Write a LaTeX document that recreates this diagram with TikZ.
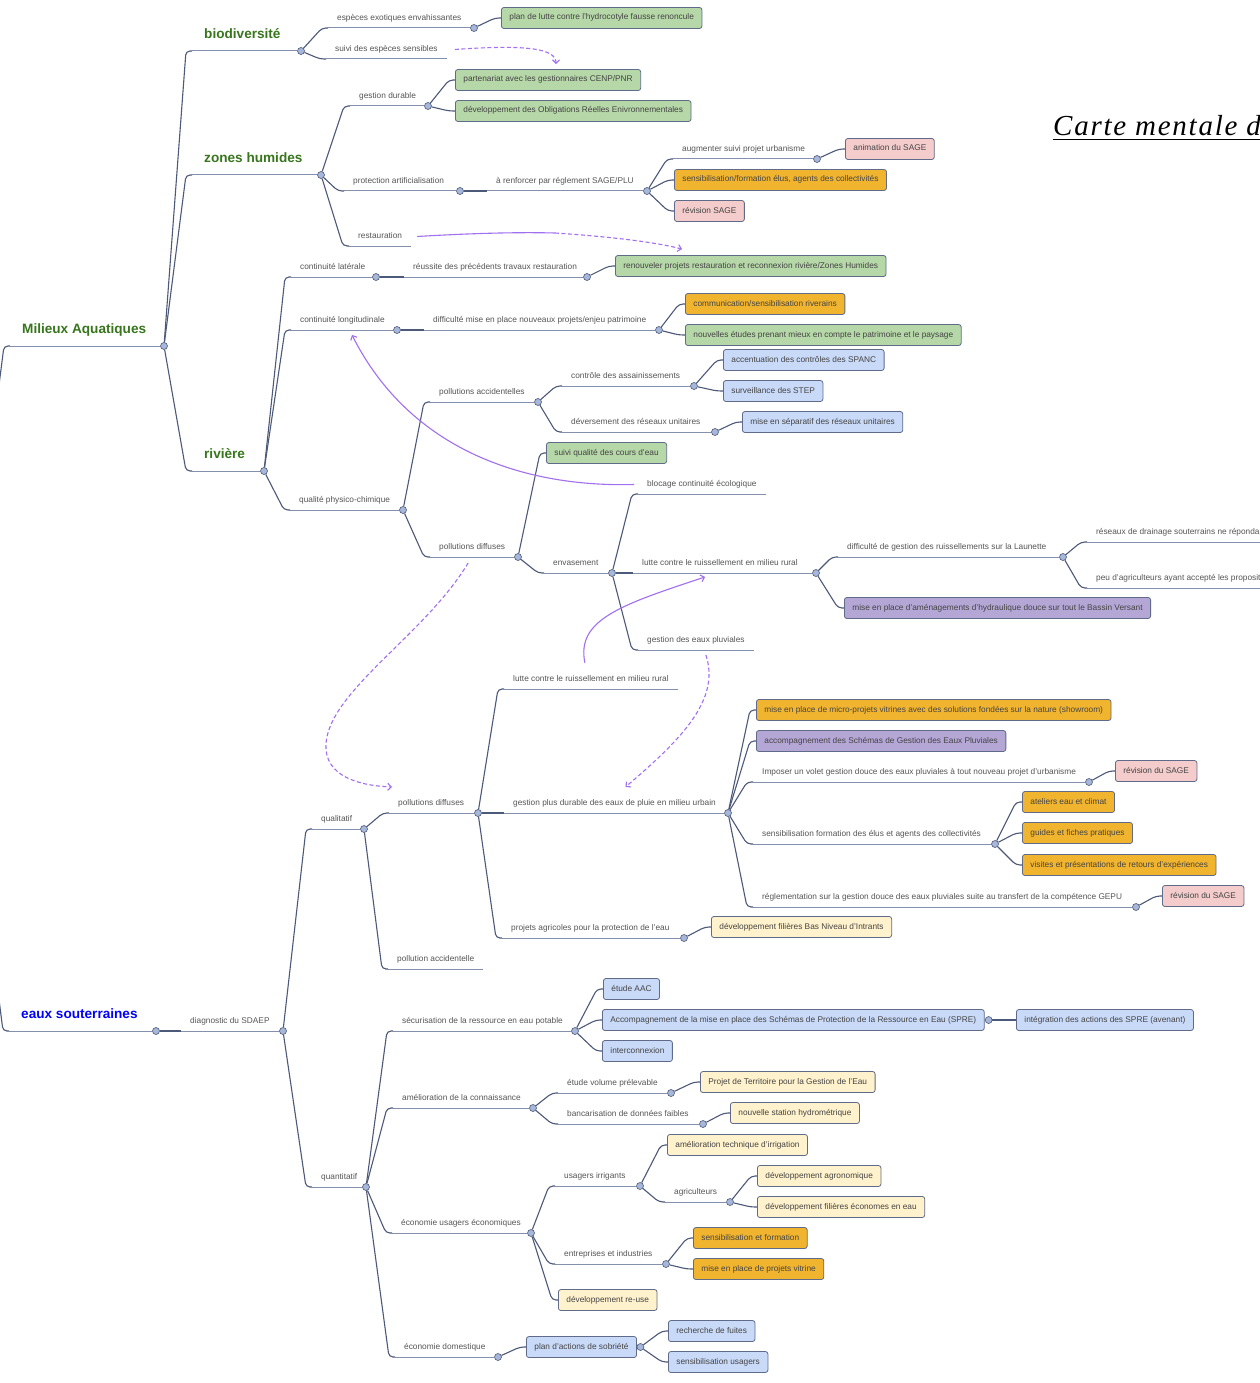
\documentclass[tikz,border=0pt]{standalone}
\usepackage{fontspec}
\setmainfont{Liberation Sans}
\newfontfamily\titlefont[LetterSpace=6]{Liberation Serif}
\usetikzlibrary{arrows.meta}

\definecolor{linec}{HTML}{4D5979}
\definecolor{ulinec}{HTML}{8590AE}
\definecolor{hubc}{HTML}{A6B7D9}
\definecolor{boxline}{HTML}{606B89}
\definecolor{txtc}{HTML}{555555}
\definecolor{boxtxt}{HTML}{444444}
\definecolor{headgreen}{HTML}{38761D}
\definecolor{headblue}{HTML}{0000FF}
\definecolor{linkc}{HTML}{A070F0}
\definecolor{fgreen}{HTML}{B6D7A8}
\definecolor{forange}{HTML}{F1B42F}
\definecolor{fpink}{HTML}{F4CCCC}
\definecolor{fblue}{HTML}{C9DAF8}
\definecolor{fpurple}{HTML}{B4A7D6}
\definecolor{fyellow}{HTML}{FFF2CC}

\newcommand{\lblfont}{\fontsize{8.3}{10}\selectfont}
\newcommand{\headfont}{\fontsize{13.6}{16}\selectfont\bfseries}

\begin{document}
\begin{tikzpicture}
[
x=1pt, y=-1pt,
heading/.style={anchor=south west, inner xsep=12pt, inner ysep=9pt, text depth=3pt, font=\headfont, text=headgreen},
topic/.style={anchor=south west, inner xsep=9pt, inner ysep=5.3pt, text height=6pt, text depth=2pt, font=\lblfont, text=txtc},
action/.style={anchor=west, draw=boxline, line width=0.8pt, rounded corners=2.5pt, inner xsep=8pt, inner ysep=0pt, minimum height=21pt, text height=6pt, text depth=2pt, font=\lblfont, text=boxtxt},
action_green/.style={action, fill=fgreen},
action_orange/.style={action, fill=forange},
action_pink/.style={action, fill=fpink},
action_blue/.style={action, fill=fblue},
action_purple/.style={action, fill=fpurple},
action_yellow/.style={action, fill=fyellow},
hub/.style={circle, draw=linec, fill=hubc, line width=0.6pt, inner sep=0pt, minimum size=7pt},
uline/.style={draw=ulinec, line width=1pt},
conn/.style={draw=linec, line width=1.1pt, rounded corners=4pt, to path={-- ([xshift=-6pt]\tikztotarget) -- (\tikztotarget)}},
crosslink/.style={draw=linkc, line width=1.1pt, -{Straight Barb[length=3.5pt,width=7pt]}},
dashlink/.style={crosslink, dash pattern=on 4pt off 2.5pt}
]
\fill[white] (0,0) rectangle (1259,1383);
\useasboundingbox (0,0) rectangle (1259,1383);

%Nodes
\coordinate (root) at (-40,690);
\node[heading]      (milieux)   at (10,346)     {Milieux Aquatiques};
\node[hub]          (milieux-d) at (164,346)    {};
\node[heading]      (bio)       at (192,51)     {biodiversité};
\node[hub]          (bio-d)     at (301,51)     {};
\node[heading]      (zh)        at (192,175)    {zones humides};
\node[hub]          (zh-d)      at (321,175)    {};
\node[heading]      (riv)       at (192,471)    {rivière};
\node[hub]          (riv-d)     at (264,471)    {};

% biodiversite
\node[topic]        (esp)       at (328,28)     {espèces exotiques envahissantes};
\node[hub]          (esp-d)     at (474,28)     {};
\node[topic]        (suiv)      at (326,59)     {suivi des espèces sensibles};
\node[action_green] (lutte)     at (501,18)     {plan de lutte contre l'hydrocotyle fausse renoncule};

% zones humides
\node[topic]        (gdur)      at (350,106)    {gestion durable};
\node[hub]          (gdur-d)    at (428,106)    {};
\node[action_green] (part)      at (455,80)     {partenariat avec les gestionnaires CENP/PNR};
\node[action_green] (ore)       at (455,111)    {développement des Obligations Réelles Enivronnementales};
\node[topic]        (prot)      at (344,191)    {protection artificialisation};
\node[hub]          (prot-d)    at (460,191)    {};
\node[topic]        (renf)      at (487,191)    {à renforcer par réglement SAGE/PLU};
\node[hub]          (renf-d)    at (647,191)    {};
\node[topic]        (augm)      at (673,159)    {augmenter suivi projet urbanisme};
\node[hub]          (augm-d)    at (817,159)    {};
\node[action_pink]  (anim)      at (845,149)    {animation du SAGE};
\node[action_orange] (sens)     at (674,180)    {sensibilisation/formation élus, agents des collectivités};
\node[action_pink]  (revs)      at (674,211)    {révision SAGE};
\node[topic]        (rest)      at (349,246)    {restauration};

% riviere
\node[topic]        (clat)      at (291,277)    {continuité latérale};
\node[hub]          (clat-d)    at (376,277)    {};
\node[topic]        (reus)      at (404,277)    {réussite des précédents travaux restauration};
\node[hub]          (reus-d)    at (587,277)    {};
\node[action_green] (renou)     at (615,266)    {renouveler projets restauration et reconnexion rivière/Zones Humides};
\node[topic]        (clon)      at (291,330)    {continuité longitudinale};
\node[hub]          (clon-d)    at (397,330)    {};
\node[topic]        (diff)      at (424,330)    {difficulté mise en place nouveaux projets/enjeu patrimoine};
\node[hub]          (diff-d)    at (659,330)    {};
\node[action_orange] (comm)     at (685,304)    {communication/sensibilisation riverains};
\node[action_green] (etud)      at (685,335)    {nouvelles études prenant mieux en compte le patrimoine et le paysage};
\node[topic]        (qpc)       at (290,510)    {qualité physico-chimique};
\node[hub]          (qpc-d)     at (403,510)    {};
\node[topic]        (pacc)      at (430,402)    {pollutions accidentelles};
\node[hub]          (pacc-d)    at (538,402)    {};
\node[topic]        (ctrl)      at (562,386)    {contrôle des assainissements};
\node[hub]          (ctrl-d)    at (694,386)    {};
\node[action_blue]  (spanc)     at (723,360)    {accentuation des contrôles des SPANC};
\node[action_blue]  (step)      at (723,391)    {surveillance des STEP};
\node[topic]        (deve)      at (562,432)    {déversement des réseaux unitaires};
\node[hub]          (deve-d)    at (715,432)    {};
\node[action_blue]  (sepa)      at (742,422)    {mise en séparatif des réseaux unitaires};
\node[topic]        (pdif)      at (430,557)    {pollutions diffuses};
\node[hub]          (pdif-d)    at (518,557)    {};
\node[action_green] (sqce)      at (546,453)    {suivi qualité des cours d'eau};
\node[topic]        (envs)      at (544,573)    {envasement};
\node[hub]          (envs-d)    at (612,573)    {};
\node[topic]        (bloc)      at (638,494)    {blocage continuité écologique};
\node[topic]        (lrur)      at (633,573)    {lutte contre le ruissellement en milieu rural};
\node[hub]          (lrur-d)    at (816,573)    {};
\node[topic]        (dges)      at (838,557)    {difficulté de gestion des ruissellements sur la Launette};
\node[hub]          (dges-d)    at (1063,557)   {};
\node[topic]        (drai)      at (1087,542)   {réseaux de drainage souterrains ne réponda};
\node[topic]        (agri)      at (1087,588)   {peu d'agriculteurs ayant accepté les proposit};
\node[action_purple] (hydr)     at (844,608)    {mise en place d'aménagements d'hydraulique douce sur tout le Bassin Versant};
\node[topic]        (gpluv)     at (638,650)    {gestion des eaux pluviales};

% eaux souterraines
\node[heading, text=headblue] (eaux) at (9,1031) {eaux souterraines};
\node[hub]          (eaux-d)    at (156,1031)   {};
\node[topic]        (sdaep)     at (181,1031)   {diagnostic du SDAEP};
\node[hub]          (sdaep-d)   at (283,1031)   {};
\node[topic]        (qual)      at (312,829)    {qualitatif};
\node[hub]          (qual-d)    at (364,829)    {};
\node[topic]        (pdif2)     at (389,813)    {pollutions diffuses};
\node[hub]          (pdif2-d)   at (478,813)    {};
\node[topic]        (lrur2)     at (504,689)    {lutte contre le ruissellement en milieu rural};
\node[topic]        (gpdu)      at (504,813)    {gestion plus durable des eaux de pluie en milieu urbain};
\node[hub]          (gpdu-d)    at (728,813)    {};
\node[action_orange] (micro)    at (756,710)    {mise en place de micro-projets vitrines avec des solutions fondées sur la nature (showroom)};
\node[action_purple] (sgep)     at (756,741)    {accompagnement des Schémas de Gestion des Eaux Pluviales};
\node[topic]        (impo)      at (753,782)    {Imposer un volet gestion douce des eaux pluviales à tout nouveau projet d'urbanisme};
\node[hub]          (impo-d)    at (1089,782)   {};
\node[action_pink]  (rev1)      at (1115,771)   {révision du SAGE};
\node[topic]        (sfor)      at (753,844)    {sensibilisation formation des élus et agents des collectivités};
\node[hub]          (sfor-d)    at (995,844)    {};
\node[action_orange] (atel)     at (1022,802)   {ateliers eau et climat};
\node[action_orange] (guid)     at (1022,833)   {guides et fiches pratiques};
\node[action_orange] (visi)     at (1022,865)   {visites et présentations de retours d'expériences};
\node[topic]        (regl)      at (753,907)    {réglementation sur la gestion douce des eaux pluviales suite au transfert de la compétence GEPU};
\node[hub]          (regl-d)    at (1136,907)   {};
\node[action_pink]  (rev2)      at (1162,896)   {révision du SAGE};
\node[topic]        (pagr)      at (502,938)    {projets agricoles pour la protection de l'eau};
\node[hub]          (pagr-d)    at (684,938)    {};
\node[action_yellow] (bni)      at (711,927)    {développement filières Bas Niveau d'Intrants};
\node[topic]        (pacc2)     at (388,969)    {pollution accidentelle};
\node[topic]        (quan)      at (312,1187)   {quantitatif};
\node[hub]          (quan-d)    at (366,1187)   {};
\node[topic]        (secu)      at (393,1031)   {sécurisation de la ressource en eau potable};
\node[hub]          (secu-d)    at (575,1031)   {};
\node[action_blue]  (aac)       at (603,989)    {étude AAC};
\node[action_blue]  (spre)      at (602,1020)   {Accompagnement de la mise en place des Schémas de Protection de la Ressource en Eau (SPRE)};
\node[hub]          (spre-d)    at ([xshift=4pt]spre.east) {};
\node[action_blue]  (integ)     at (1016,1020)  {intégration des actions des SPRE (avenant)};
\node[action_blue]  (inter)     at (602,1051)   {interconnexion};
\node[topic]        (amel)      at (393,1108)   {amélioration de la connaissance};
\node[hub]          (amel-d)    at (533,1108)   {};
\node[topic]        (evol)      at (558,1093)   {étude volume prélevable};
\node[hub]          (evol-d)    at (671,1093)   {};
\node[action_yellow] (ptge)     at (700,1082)   {Projet de Territoire pour la Gestion de l'Eau};
\node[topic]        (banc)      at (558,1124)   {bancarisation de données faibles};
\node[hub]          (banc-d)    at (703,1124)   {};
\node[action_yellow] (stat)     at (730,1113)   {nouvelle station hydrométrique};
\node[topic]        (ecou)      at (392,1233)   {économie usagers économiques};
\node[hub]          (ecou-d)    at (531,1233)   {};
\node[topic]        (irri)      at (555,1186)   {usagers irrigants};
\node[hub]          (irri-d)    at (640,1186)   {};
\node[action_yellow] (tech)     at (667,1145)   {amélioration technique d'irrigation};
\node[topic]        (agrc)      at (665,1202)   {agriculteurs};
\node[hub]          (agrc-d)    at (730,1202)   {};
\node[action_yellow] (agro)     at (757,1176)   {développement agronomique};
\node[action_yellow] (fili)     at (757,1207)   {développement filières économes en eau};
\node[topic]        (entr)      at (555,1264)   {entreprises et industries};
\node[hub]          (entr-d)    at (666,1264)   {};
\node[action_orange] (sfo2)     at (693,1238)   {sensibilisation et formation};
\node[action_orange] (vitr)     at (693,1269)   {mise en place de projets vitrine};
\node[action_yellow] (reuse)    at (558,1300)   {développement re-use};
\node[topic]        (ecod)      at (395,1357)   {économie domestique};
\node[hub]          (ecod-d)    at (498,1357)   {};
\node[action_blue]  (sobr)      at (526,1347)   {plan d'actions de sobriété};
\node[hub]          (sobr-d)    at ([xshift=3.5pt]sobr.east) {};
\node[action_blue]  (fuit)      at (668,1331)   {recherche de fuites};
\node[action_blue]  (susg)      at (668,1362)   {sensibilisation usagers};

% title
\node[anchor=base west, inner sep=0pt, font=\titlefont\itshape\fontsize{29}{33}\selectfont] (titre) at (1053,136) {Carte mentale d};
\draw[line width=1.4pt] ([yshift=-3.5pt]titre.base west) -- ([yshift=-3.5pt]titre.base east);

%Underlines
\draw[uline] (milieux.south west) -- (milieux-d);
\draw[uline] (bio.south west) -- (bio-d);
\draw[uline] (zh.south west) -- (zh-d);
\draw[uline] (riv.south west) -- (riv-d);
\draw[uline] (eaux.south west) -- (eaux-d);
\draw[uline] (esp.south west) -- (esp-d);
\draw[uline] (suiv.south west) -- (suiv.south east);
\draw[uline] (gdur.south west) -- (gdur-d);
\draw[uline] (prot.south west) -- (prot-d);
\draw[uline] (renf.south west) -- (renf-d);
\draw[uline] (augm.south west) -- (augm-d);
\draw[uline] (rest.south west) -- (rest.south east);
\draw[uline] (clat.south west) -- (clat-d);
\draw[uline] (reus.south west) -- (reus-d);
\draw[uline] (clon.south west) -- (clon-d);
\draw[uline] (diff.south west) -- (diff-d);
\draw[uline] (qpc.south west) -- (qpc-d);
\draw[uline] (pacc.south west) -- (pacc-d);
\draw[uline] (ctrl.south west) -- (ctrl-d);
\draw[uline] (deve.south west) -- (deve-d);
\draw[uline] (pdif.south west) -- (pdif-d);
\draw[uline] (envs.south west) -- (envs-d);
\draw[uline] (bloc.south west) -- (bloc.south east);
\draw[uline] (lrur.south west) -- (lrur-d);
\draw[uline] (dges.south west) -- (dges-d);
\draw[uline] (drai.south west) -- (drai.south east);
\draw[uline] (agri.south west) -- (agri.south east);
\draw[uline] (gpluv.south west) -- (gpluv.south east);
\draw[uline] (sdaep.south west) -- (sdaep-d);
\draw[uline] (qual.south west) -- (qual-d);
\draw[uline] (pdif2.south west) -- (pdif2-d);
\draw[uline] (lrur2.south west) -- (lrur2.south east);
\draw[uline] (gpdu.south west) -- (gpdu-d);
\draw[uline] (impo.south west) -- (impo-d);
\draw[uline] (sfor.south west) -- (sfor-d);
\draw[uline] (regl.south west) -- (regl-d);
\draw[uline] (pagr.south west) -- (pagr-d);
\draw[uline] (pacc2.south west) -- (pacc2.south east);
\draw[uline] (quan.south west) -- (quan-d);
\draw[uline] (secu.south west) -- (secu-d);
\draw[uline] (amel.south west) -- (amel-d);
\draw[uline] (evol.south west) -- (evol-d);
\draw[uline] (banc.south west) -- (banc-d);
\draw[uline] (ecou.south west) -- (ecou-d);
\draw[uline] (irri.south west) -- (irri-d);
\draw[uline] (agrc.south west) -- (agrc-d);
\draw[uline] (entr.south west) -- (entr-d);
\draw[uline] (ecod.south west) -- (ecod-d);

%Branches
\path[conn]
(root)      edge (milieux.south west)   edge (eaux.south west)
(milieux-d) edge (bio.south west)       edge (zh.south west)    edge (riv.south west)
(bio-d)     edge (esp.south west)       edge (suiv.south west)
(esp-d)     edge (lutte.west)
(zh-d)      edge (gdur.south west)      edge (prot.south west)  edge (rest.south west)
(gdur-d)    edge (part.west)            edge (ore.west)
(prot-d)    edge (renf.south west)
(renf-d)    edge (augm.south west)      edge (sens.west)        edge (revs.west)
(augm-d)    edge (anim.west)
(riv-d)     edge (clat.south west)      edge (clon.south west)  edge (qpc.south west)
(clat-d)    edge (reus.south west)
(reus-d)    edge (renou.west)
(clon-d)    edge (diff.south west)
(diff-d)    edge (comm.west)            edge (etud.west)
(qpc-d)     edge (pacc.south west)      edge (pdif.south west)
(pacc-d)    edge (ctrl.south west)      edge (deve.south west)
(ctrl-d)    edge (spanc.west)           edge (step.west)
(deve-d)    edge (sepa.west)
(pdif-d)    edge (sqce.west)            edge (envs.south west)
(envs-d)    edge (bloc.south west)      edge (lrur.south west)  edge (gpluv.south west)
(lrur-d)    edge (dges.south west)      edge (hydr.west)
(dges-d)    edge (drai.south west)      edge (agri.south west);
\path[conn]
(eaux-d)    edge (sdaep.south west)
(sdaep-d)   edge (qual.south west)      edge (quan.south west)
(qual-d)    edge (pdif2.south west)     edge (pacc2.south west)
(pdif2-d)   edge (lrur2.south west)     edge (gpdu.south west)  edge (pagr.south west)
(gpdu-d)    edge (micro.west)           edge (sgep.west)        edge (impo.south west)
            edge (sfor.south west)      edge (regl.south west)
(impo-d)    edge (rev1.west)
(sfor-d)    edge (atel.west)            edge (guid.west)        edge (visi.west)
(regl-d)    edge (rev2.west)
(pagr-d)    edge (bni.west)
(quan-d)    edge (secu.south west)      edge (amel.south west)  edge (ecou.south west)
            edge (ecod.south west)
(secu-d)    edge (aac.west)             edge (spre.west)        edge (inter.west)
(spre-d)    edge (integ.west)
(amel-d)    edge (evol.south west)      edge (banc.south west)
(evol-d)    edge (ptge.west)
(banc-d)    edge (stat.west)
(ecou-d)    edge (irri.south west)      edge (entr.south west)  edge (reuse.west)
(irri-d)    edge (tech.west)            edge (agrc.south west)
(agrc-d)    edge (agro.west)            edge (fili.west)
(entr-d)    edge (sfo2.west)            edge (vitr.west)
(ecod-d)    edge (sobr.west)
(sobr-d)    edge (fuit.west)            edge (susg.west);

%Cross links
\coordinate (restmid) at (555,233);
\coordinate (dipbend) at (326,750);
\draw[dashlink] ([xshift=8pt]suiv.east) .. controls +(70,-5) and +(0,-16) .. ([xshift=8pt,yshift=5pt]part.north);
\draw[draw=linkc, line width=1.1pt] ([xshift=6pt]rest.east) .. controls +(50,-3) and +(-40,-1) .. (restmid);
\draw[dashlink] (restmid) .. controls +(45,3) and +(-30,-8) .. ([xshift=67pt,yshift=6pt]renou.north west);
\draw[crosslink] ([xshift=-4pt]bloc.west) .. controls +(-110,3) and +(58,115) .. ([xshift=61pt,yshift=-5pt]clon.south west);
\draw[dashlink] ([xshift=-4pt,yshift=-6pt]pdif.south) .. controls +(-45,75) and +(-4,-55) .. (dipbend) .. controls +(3,30) and +(-25,-1) .. ([xshift=3pt,yshift=7pt]pdif2.north west);
\draw[dashlink] ([xshift=10pt,yshift=-5pt]gpluv.south) .. controls +(15,45) and +(55,-47) .. ([xshift=11pt,yshift=7pt]gpdu.north);
\draw[crosslink] ([xshift=-6pt,yshift=7pt]lrur2.north) .. controls +(-9,-43) and +(-85,28) .. ([xshift=72pt,yshift=-4pt]lrur.south west);
\end{tikzpicture}
\end{document}
